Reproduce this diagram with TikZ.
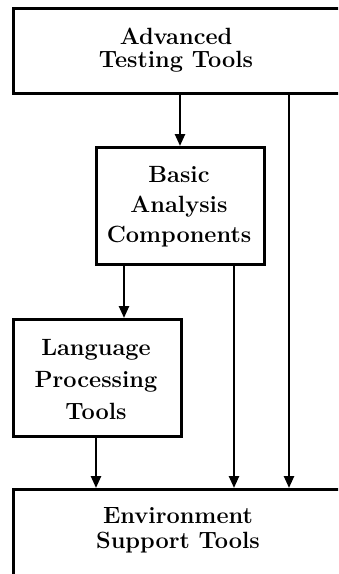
\documentclass[tikz,border=0pt]{standalone}
\usetikzlibrary{arrows.meta}
\begin{document}
\begin{tikzpicture}[x=1pt,y=-1pt,
  box/.style={draw,line width=2.6pt,anchor=north west,inner sep=0pt},
  lbl/.style={align=center,font=\bfseries\fontsize{23.5}{#1}\selectfont,inner sep=0pt},
  arr/.style={line width=2.4pt,-{Triangle[length=12pt,width=10pt]}}]
\useasboundingbox (0,0) rectangle (338,574);
\clip (0,0) rectangle (338,574);
\node[box,minimum width=330pt,minimum height=85pt] (top) at (12,7) {};
\node[box,minimum width=168pt,minimum height=117pt] (basic) at (95,146) {};
\node[box,minimum width=168pt,minimum height=117pt] (lang) at (12,318) {};
\node[box,minimum width=335pt,minimum height=88pt] (env) at (12,488) {};
\node[lbl=23pt] (toplbl) at (176,50) {Advanced\\Testing Tools};
\node[lbl=30pt] (basiclbl) at (179,207) {Basic\\Analysis\\Components};
\node[lbl=32pt] (langlbl) at (96,380) {Language\\Processing\\Tools};
\node[lbl=25pt] (envlbl) at (178,530) {Environment\\Support Tools};
\coordinate (xa) at (180,0);
\coordinate (xb) at (289,0);
\coordinate (xc) at (124,0);
\coordinate (xd) at (234,0);
\coordinate (xe) at (96,0);
\draw[arr] (xa |- top.south) -- (xa |- basic.north);
\draw[arr] (xb |- top.south) -- (xb |- env.north);
\draw[arr] (xc |- basic.south) -- (xc |- lang.north);
\draw[arr] (xd |- basic.south) -- (xd |- env.north);
\draw[arr] (xe |- lang.south) -- (xe |- env.north);
\end{tikzpicture}
\end{document}
